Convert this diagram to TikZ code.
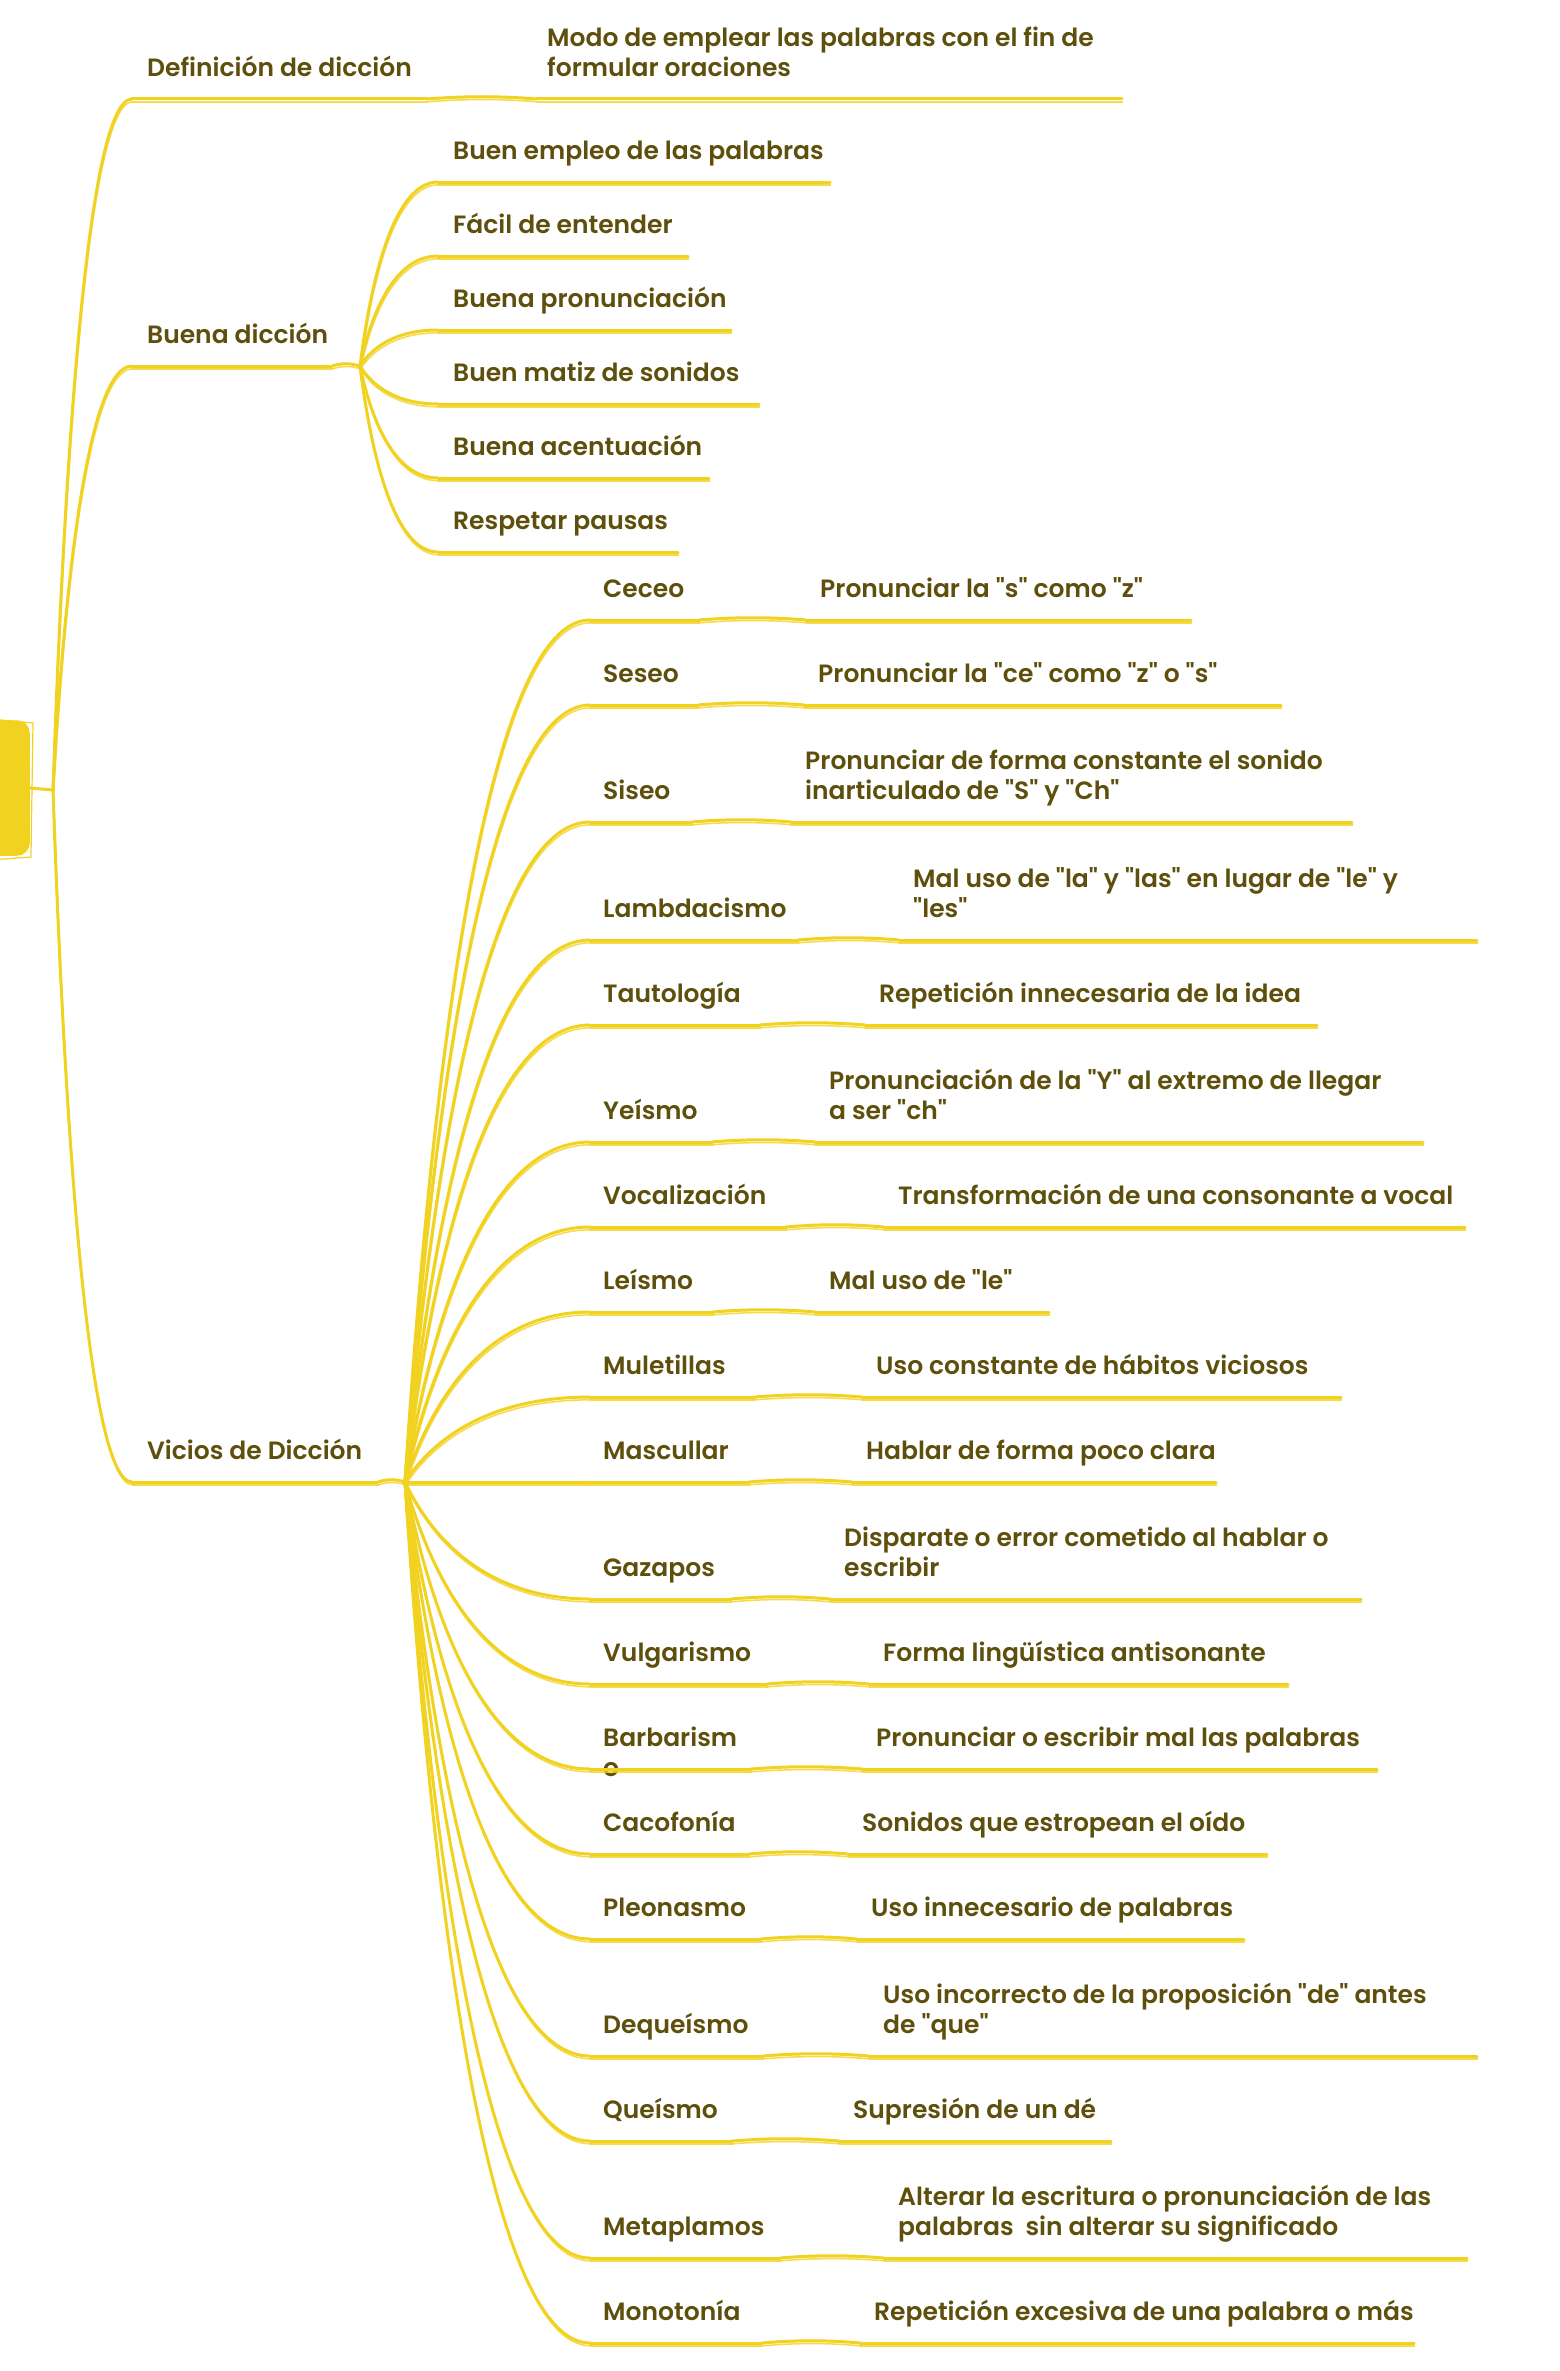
\documentclass[tikz,border=0pt]{standalone}
\usepackage{fontspec}
\newfontfamily\hand{Poppins}[UprightFont={* SemiBold}]
\usetikzlibrary{calc}
\definecolor{ink}{RGB}{94,80,12}
\definecolor{ylw}{RGB}{242,210,32}
\tikzset{
  every node/.style={font=\hand\fontsize{25}{30}\selectfont, text=ink},
  txt/.style={anchor=south west, inner sep=0pt, text depth=0pt, align=left},
  ln/.style={draw=ylw, line width=3pt, line cap=round},
  ln2/.style={draw=ylw, line width=1.5pt, line cap=round, opacity=0.8,
              transform canvas={shift={(0.6pt,-2.8pt)}}},
  rootbox/.style={draw=ylw, fill=ylw, line width=1.5pt, rounded corners=12pt,
              minimum width=190pt, minimum height=134pt, inner sep=0pt},
}
% name, x start, x end, y of underline, x of text, text
\newcommand\topic[6]{%
  \coordinate (#1-s) at (#2,#4);
  \coordinate (#1-e) at (#3,#4);
  \node[txt] (#1) at (#5,#4-22) {#6};
  \draw[ln] (#1-s) -- (#1-e);
  \draw[ln2] (#1-s) -- (#1-e);
}
\newcommand\curv[2]{%
  \foreach \st in {ln,ln2}{%
    \draw[\st] let \p1=(#1), \p2=(#2) in (\p1) .. controls ({\x1+0.15*(\x2-\x1)},{\y1+0.5*(\y2-\y1)}) and ({\x1+0.45*(\x2-\x1)},\y2) .. (\p2);
  }%
}
\newcommand\bump[2]{%
  \foreach \st in {ln,ln2}{%
    \draw[\st] (#1) .. controls ($(#1)!0.35!(#2)+(0,-3)$) and ($(#1)!0.65!(#2)+(0,-3)$) .. (#2);
  }%
}
% name, y, label underline end, desc text x, desc underline end, label, desc
\newcommand\vicio[7]{%
  \topic{#1}{590}{#3}{#2}{603}{#6}
  \topic{#1d}{#4-14}{#5}{#2}{#4}{#7}
  \curv{vic-j}{#1-s}
  \bump{#1-e}{#1d-s}
}
\begin{document}
\begin{tikzpicture}[x=1pt,y=-1pt]
\fill[white] (0,0) rectangle (1559,2371);
\useasboundingbox (0,0) rectangle (1559,2371);

% root
\node[rootbox] (root) at (-66,788) {};
\draw[ylw, line width=1.2pt] (-10,719) -- (33,723) -- (31,857) -- (-10,860);
\coordinate (rj) at (53,790);
\draw[ln] (root.east) -- (rj);

% Definicion
\topic{def}{132}{427}{99}{147}{Definición de dicción}
\topic{defd}{537}{1122}{99}{547}{Modo de emplear las palabras con el fin de\\formular oraciones}
\bump{def-e}{defd-s}

% Buena diccion
\topic{bue}{132}{332}{366}{147}{Buena dicción}
\coordinate (bue-j) at (360,366);
\bump{bue-e}{bue-j}
\topic{b1}{438}{830}{182}{453}{Buen empleo de las palabras}
\topic{b2}{438}{688}{256}{453}{Fácil de entender}
\topic{b3}{438}{731}{330}{453}{Buena pronunciación}
\topic{b4}{438}{759}{404}{453}{Buen matiz de sonidos}
\topic{b5}{438}{709}{478}{453}{Buena acentuación}
\topic{b6}{438}{678}{552}{453}{Respetar pausas}
\foreach \b in {b1,b2,b3,b4,b5,b6}{\curv{bue-j}{\b-s}}

% Vicios de diccion
\topic{vic}{132}{378}{1482}{147}{Vicios de Dicción}
\coordinate (vic-j) at (405,1482);
\bump{vic-e}{vic-j}

\curv{rj}{def-s}
\curv{rj}{bue-s}
\curv{rj}{vic-s}

\vicio{v1}{620}{699}{820}{1191}{Ceceo}{Pronunciar la "s" como "z"}
\vicio{v2}{705}{698}{818}{1281}{Seseo}{Pronunciar la "ce" como "z" o "s"}
\vicio{v3}{822}{692}{805}{1352}{Siseo}{Pronunciar de forma constante el sonido\\inarticulado de "S" y "Ch"}
\vicio{v4}{940}{798}{913}{1477}{Lambdacismo}{Mal uso de "la" y "las" en lugar de "le" y\\"les"}
\vicio{v5}{1025}{760}{879}{1317}{Tautología}{Repetición innecesaria de la idea}
\vicio{v6}{1142}{712}{829}{1423}{Yeísmo}{Pronunciación de la "Y" al extremo de llegar\\a ser "ch"}
\vicio{v7}{1227}{786}{898}{1465}{Vocalización}{Transformación de una consonante a vocal}
\vicio{v8}{1312}{713}{829}{1049}{Leísmo}{Mal uso de "le"}
\vicio{v9}{1397}{755}{876}{1341}{Muletillas}{Uso constante de hábitos viciosos}
\vicio{v10}{1482}{749}{866}{1216}{Mascullar}{Hablar de forma poco clara}
\vicio{v11}{1599}{731}{844}{1361}{Gazapos}{Disparate o error cometido al hablar o\\escribir}
\vicio{v12}{1684}{767}{883}{1288}{Vulgarismo}{Forma lingüística antisonante}
% Barbarismo (label wraps below its line)
\coordinate (v13-s) at (590,1769);
\coordinate (v13-e) at (751,1769);
\node[txt] (v13) at (603,1777) {Barbarism\\o};
\draw[ln] (v13-s) -- (v13-e);
\draw[ln2] (v13-s) -- (v13-e);
\topic{v13d}{862}{1377}{1769}{876}{Pronunciar o escribir mal las palabras}
\curv{vic-j}{v13-s}
\bump{v13-e}{v13d-s}
\vicio{v14}{1854}{749}{862}{1267}{Cacofonía}{Sonidos que estropean el oído}
\vicio{v15}{1939}{761}{871}{1244}{Pleonasmo}{Uso innecesario de palabras}
\vicio{v16}{2056}{763}{883}{1477}{Dequeísmo}{Uso incorrecto de la proposición "de" antes\\de "que"}
\vicio{v17}{2141}{732}{853}{1111}{Queísmo}{Supresión de un dé}
\vicio{v18}{2258}{780}{898}{1467}{Metaplamos}{Alterar la escritura o pronunciación de las\\palabras\ \ sin alterar su significado}
\vicio{v19}{2343}{762}{874}{1414}{Monotonía}{Repetición excesiva de una palabra o más}
\end{tikzpicture}
\end{document}
